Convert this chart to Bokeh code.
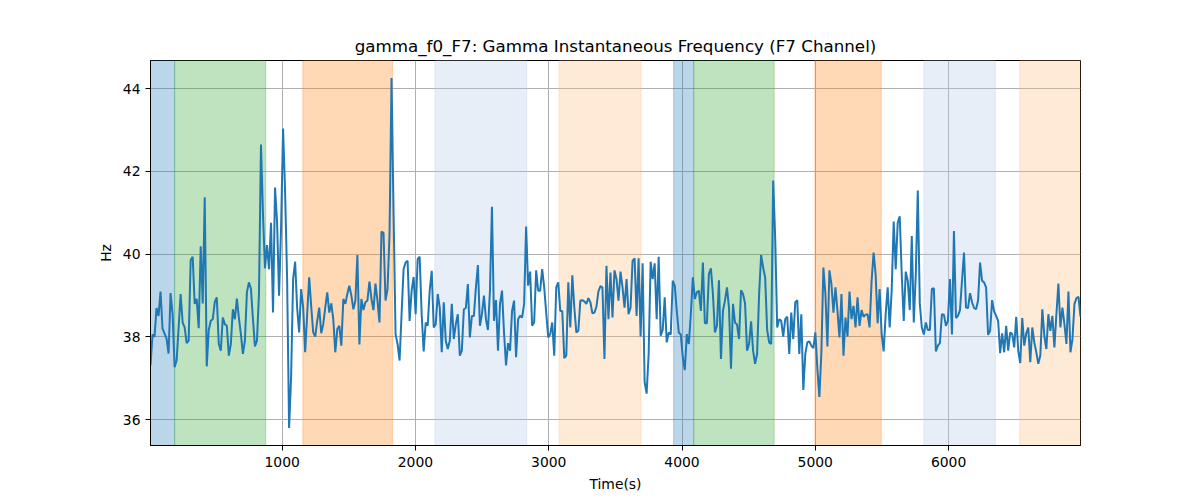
import numpy as np
from bokeh.plotting import figure
from bokeh.models import Range1d, BoxAnnotation, FixedTicker
from bokeh.embed import file_html
from bokeh.resources import INLINE

# gamma instantaneous frequency, F7 channel (Hz), evenly sampled in time
hz_part1 = [37.31, 38.06, 38.00, 38.70, 38.51, 39.10, 38.20, 38.08, 37.96, 37.60,
            39.06, 38.55, 37.27, 37.43, 38.23, 39.04, 38.35, 38.23, 37.85, 37.91,
            39.86, 39.94, 38.80, 38.92, 38.21, 40.19, 38.81, 41.38, 37.29, 38.17,
            38.39, 38.43, 38.84, 38.96, 37.83, 37.67, 38.47, 38.31, 38.27, 37.55,
            37.83, 38.67, 38.43, 38.93, 38.47, 38.07, 37.59, 37.91, 39.08, 39.32,
            39.17, 38.43, 37.77, 37.91, 39.04, 42.65, 40.96, 39.66, 40.22, 39.64,
            40.76, 38.59, 41.61, 40.80, 39.00, 40.64, 43.04, 41.53, 39.44, 35.80,
            37.03, 39.40, 39.82, 38.71, 38.11, 39.16, 38.71, 37.63, 38.55, 39.44,
            38.75, 38.11, 38.01, 38.39, 38.71, 38.09, 38.31, 38.71, 39.08, 38.59,
            38.81, 38.43, 37.63, 38.19, 38.27, 37.79, 38.92, 38.80, 39.04, 39.24,
            39.00, 38.67, 38.88, 39.98, 37.82, 38.92, 38.65, 38.84, 38.88, 39.34,
            38.92, 38.65, 39.29, 38.88]
hz_part2 = [38.35, 40.55, 40.52, 38.88, 39.16, 40.48, 44.26, 41.04, 38.07, 37.83,
            37.43, 38.55, 39.64, 39.80, 39.84, 38.39, 39.12, 39.45, 38.55, 39.88,
            39.94, 38.55, 37.65, 38.35, 38.27, 39.12, 39.60, 38.23, 38.31, 39.04,
            38.71, 37.63, 38.84, 37.91, 37.71, 37.91, 38.80, 37.95, 38.31, 38.55,
            37.55, 37.67, 38.67, 38.70, 39.28, 37.99, 38.51, 38.51, 39.20, 39.74,
            38.27, 38.55, 39.00, 38.43, 38.17, 39.12, 41.15, 38.39, 38.89, 37.67,
            38.80, 39.12, 38.11, 37.31, 37.85, 37.67, 38.63, 38.88, 37.51, 38.43,
            38.51, 38.47, 38.80, 40.67, 39.24, 39.58, 38.27, 38.35, 39.61, 39.12,
            39.12, 39.64, 39.20, 38.59, 37.99, 38.07, 38.35, 37.55, 39.20, 39.32,
            38.63, 38.63, 37.49, 37.55, 39.32, 38.23, 39.49, 38.71, 38.11, 38.15,
            38.88, 38.89, 38.86, 38.80, 38.94, 38.84, 38.57, 38.59, 38.73, 39.10,
            39.23, 39.20, 37.47, 39.72, 38.43]
hz_part3 = [39.56, 38.47, 39.61, 39.40, 38.88, 39.58, 39.20, 38.71, 39.40, 38.55,
            38.71, 39.84, 39.90, 38.51, 39.90, 38.01, 39.78, 36.91, 36.63, 37.59,
            39.82, 39.40, 39.78, 38.43, 39.94, 38.03, 38.17, 38.96, 37.87, 38.11,
            38.06, 39.36, 39.24, 38.63, 38.11, 38.06, 37.51, 37.20, 38.07, 37.83,
            38.55, 39.44, 38.92, 39.08, 39.12, 38.63, 39.80, 38.33, 38.33, 39.52,
            39.66, 39.04, 38.11, 38.27, 39.37, 37.47, 38.63, 38.88, 39.20, 38.71,
            37.23, 38.80, 38.35, 38.30, 37.95, 39.13, 39.04, 38.81, 37.67, 37.83,
            38.38, 37.67, 37.35, 37.59, 39.04, 39.98, 39.68, 39.44, 38.17, 37.87,
            37.83, 41.78, 40.40, 38.23, 38.43, 38.39, 38.01, 38.43, 38.49, 37.59,
            38.59, 37.95, 38.84, 38.89, 37.59, 38.55, 36.72, 37.59, 37.87, 37.89,
            37.79, 37.73, 38.11, 37.23, 36.55, 37.63, 39.68, 39.04, 37.77, 39.61,
            39.28, 38.59, 39.20, 38.63, 37.99]
hz_part4 = [39.04, 37.55, 38.47, 38.01, 39.10, 38.43, 38.75, 38.23, 38.96, 38.27,
            38.65, 38.49, 38.54, 38.55, 38.23, 39.36, 40.04, 39.52, 38.33, 39.16,
            38.07, 37.65, 38.55, 39.20, 38.23, 39.12, 40.79, 39.64, 40.76, 40.92,
            39.52, 38.39, 39.58, 39.36, 38.65, 40.44, 38.35, 39.52, 41.54, 38.80,
            38.23, 38.06, 38.35, 38.17, 38.17, 39.16, 39.18, 37.65, 37.79, 37.85,
            38.55, 38.54, 38.27, 38.39, 39.40, 38.06, 40.56, 38.46, 38.51, 38.65,
            39.36, 40.04, 38.71, 38.70, 39.06, 38.84, 38.70, 38.67, 38.88, 39.80,
            39.36, 39.32, 39.20, 38.05, 38.15, 38.89, 38.62, 38.51, 38.39, 37.61,
            38.09, 37.63, 38.27, 37.67, 38.11, 38.07, 37.75, 38.49, 37.67, 37.37,
            38.46, 37.79, 38.09, 38.23, 37.39, 38.23, 37.87, 37.63, 37.35, 37.55,
            38.67, 38.03, 37.71, 38.55, 38.15, 38.51, 37.75, 38.55, 39.29, 38.23,
            38.71, 38.31, 37.83, 39.10, 37.63, 37.95, 38.80, 38.94, 38.97, 38.49]

t_start = 12
t_end = 6990

# shaded stimulus / state intervals (s)
band_starts = [0, 193, 1155, 2146, 3078, 3937, 4088, 4997, 5815, 6534]
band_ends = [193, 877, 1829, 2835, 3692, 4088, 4691, 5495, 6351, 7000]
band_colors = ["#1f77b4", "#2ca02c", "#ff7f0e", "#aec7e8", "#ffbb78",
               "#1f77b4", "#2ca02c", "#ff7f0e", "#aec7e8", "#ffbb78"]

x_ticks = [1000, 2000, 3000, 4000, 5000, 6000]
y_ticks = [36, 38, 40, 42, 44]

hz = np.array(hz_part1 + hz_part2 + hz_part3 + hz_part4)
t = np.linspace(t_start, t_end, len(hz))

pad = 0.05 * (hz.max() - hz.min())

p = figure(width=1200, height=500, output_backend="svg", toolbar_location=None,
           title="gamma_f0_F7: Gamma Instantaneous Frequency (F7 Channel)",
           x_range=Range1d(t_start, t_end),
           y_range=Range1d(hz.min() - pad, hz.max() + pad),
           min_border_left=150, min_border_right=120,
           min_border_top=60, min_border_bottom=55)

for s, e, c in zip(band_starts, band_ends, band_colors):
    p.add_layout(BoxAnnotation(left=s, right=e, fill_color=c, fill_alpha=0.3,
                               line_color=c, line_alpha=0.3, level="underlay"))

p.line(t, hz, line_color="#1f77b4", line_width=2)

p.title.align = "center"
p.title.text_font = "DejaVu Sans"
p.title.text_font_size = "16.7px"
p.title.text_font_style = "normal"
p.title.text_color = "black"

p.xaxis.axis_label = "Time(s)"
p.yaxis.axis_label = "Hz"
p.xaxis.ticker = FixedTicker(ticks=x_ticks)
p.yaxis.ticker = FixedTicker(ticks=y_ticks)

for ax in [p.xaxis, p.yaxis]:
    ax.axis_label_text_font = "DejaVu Sans"
    ax.axis_label_text_font_size = "13.9px"
    ax.axis_label_text_font_style = "normal"
    ax.axis_label_text_color = "black"
    ax.major_label_text_font = "DejaVu Sans"
    ax.major_label_text_font_size = "13.9px"
    ax.major_label_text_color = "black"
    ax.axis_line_color = "black"
    ax.major_tick_line_color = "black"
    ax.major_tick_out = 5
    ax.major_tick_in = 0
    ax.minor_tick_line_color = None
    ax.axis_label_standoff = 6

p.xaxis.major_label_standoff = 6
p.yaxis.major_label_standoff = 5

p.grid.grid_line_color = "#b0b0b0"
p.grid.grid_line_width = 1
p.outline_line_color = "black"
p.outline_line_alpha = 1
p.background_fill_color = "white"
p.border_fill_color = "white"

open("out.html", "w").write(file_html(p, INLINE))
